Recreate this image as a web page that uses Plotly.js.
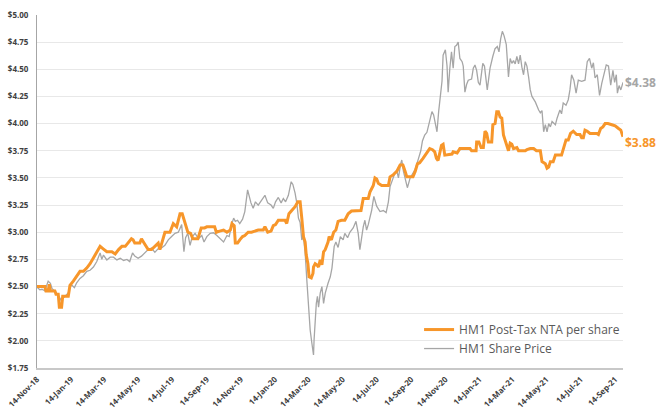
<!DOCTYPE html>
<html>
<head>
<meta charset="utf-8">
<script src="https://cdn.plot.ly/plotly-3.0.1.min.js"></script>
<style>html,body{margin:0;padding:0;background:#fff;}#chart{width:659px;height:410px;}</style>
</head>
<body>
<div id="chart"></div>
<script>
var priceDates = ['2018-11-14','2018-11-15','2018-11-19','2018-11-23','2018-11-28','2018-12-04','2018-12-08','2018-12-11','2018-12-16','2018-12-22','2018-12-27',
'2019-01-03','2019-01-09','2019-01-12','2019-01-16','2019-01-20','2019-01-24','2019-01-30','2019-02-05','2019-02-11','2019-02-17','2019-02-23',
'2019-03-01','2019-03-07','2019-03-10','2019-03-13','2019-03-19','2019-03-25','2019-03-31','2019-04-06','2019-04-12','2019-04-18','2019-04-24','2019-04-29',
'2019-05-04','2019-05-08','2019-05-14','2019-05-20','2019-05-26','2019-06-01','2019-06-07','2019-06-13','2019-06-19','2019-06-25','2019-07-01','2019-07-07',
'2019-07-13','2019-07-19','2019-07-25','2019-07-31','2019-08-04','2019-08-07','2019-08-11','2019-08-15','2019-08-19','2019-08-24','2019-08-30','2019-09-05',
'2019-09-09','2019-09-14','2019-09-20','2019-09-26','2019-10-02','2019-10-08','2019-10-14','2019-10-20','2019-10-24','2019-10-29','2019-11-01','2019-11-04',
'2019-11-08','2019-11-12','2019-11-17','2019-11-21','2019-11-26','2019-11-29','2019-12-02','2019-12-06','2019-12-10','2019-12-15','2019-12-21','2019-12-27',
'2020-01-01','2020-01-07','2020-01-11','2020-01-15','2020-01-20','2020-01-25','2020-01-29','2020-02-02','2020-02-07','2020-02-12','2020-02-15','2020-02-19',
'2020-02-22','2020-02-25','2020-02-28','2020-03-02','2020-03-05','2020-03-08','2020-03-11','2020-03-13','2020-03-15','2020-03-17','2020-03-20','2020-03-23',
'2020-03-24','2020-03-26','2020-03-28','2020-03-30','2020-04-01','2020-04-04','2020-04-07','2020-04-10','2020-04-13','2020-04-18','2020-04-22','2020-04-25',
'2020-04-29','2020-05-02','2020-05-06','2020-05-10','2020-05-15','2020-05-18','2020-05-23','2020-05-27','2020-06-02','2020-06-07','2020-06-11','2020-06-14',
'2020-06-17','2020-06-20','2020-06-23','2020-06-26','2020-06-29','2020-07-02','2020-07-05','2020-07-09','2020-07-14','2020-07-20','2020-07-26','2020-07-31',
'2020-08-04','2020-08-07','2020-08-12','2020-08-16','2020-08-19','2020-08-22','2020-08-26','2020-08-28','2020-08-31','2020-09-03','2020-09-07','2020-09-12',
'2020-09-17','2020-09-21','2020-09-27','2020-10-01','2020-10-04','2020-10-08','2020-10-12','2020-10-15','2020-10-18','2020-10-21','2020-10-24','2020-10-27',
'2020-10-30','2020-11-02','2020-11-05','2020-11-08','2020-11-10','2020-11-14','2020-11-17','2020-11-19','2020-11-22','2020-11-25','2020-11-28','2020-12-01',
'2020-12-04','2020-12-07','2020-12-10','2020-12-14','2020-12-16','2020-12-19','2020-12-22','2020-12-25','2020-12-31','2021-01-03','2021-01-06','2021-01-09',
'2021-01-12','2021-01-15','2021-01-20','2021-01-23','2021-01-28','2021-02-02','2021-02-07','2021-02-11','2021-02-15','2021-02-18','2021-02-21','2021-02-24',
'2021-02-27','2021-03-03','2021-03-07','2021-03-10','2021-03-13','2021-03-16','2021-03-19','2021-03-22','2021-03-25','2021-03-28','2021-03-31','2021-04-03',
'2021-04-06','2021-04-09','2021-04-12','2021-04-15','2021-04-18','2021-04-24','2021-04-30','2021-05-03','2021-05-06','2021-05-09','2021-05-12','2021-05-15',
'2021-05-18','2021-05-21','2021-05-24','2021-05-30','2021-06-02','2021-06-07','2021-06-10','2021-06-13','2021-06-18','2021-06-22','2021-06-25','2021-06-28',
'2021-07-02','2021-07-06','2021-07-10','2021-07-16','2021-07-22','2021-07-26','2021-07-30','2021-08-03','2021-08-06','2021-08-09','2021-08-13','2021-08-17',
'2021-08-21','2021-08-25','2021-08-29','2021-09-02','2021-09-06','2021-09-10','2021-09-13','2021-09-16','2021-09-18','2021-09-21','2021-09-24','2021-09-28'];
var priceValues = [2.50,2.49,2.47,2.475,2.46,2.55,2.53,2.48,2.46,2.42,2.375,
2.41,2.44,2.50,2.51,2.49,2.535,2.575,2.60,2.64,2.65,2.68,
2.73,2.81,2.75,2.79,2.745,2.77,2.77,2.745,2.76,2.74,2.75,2.73,
2.81,2.78,2.76,2.78,2.81,2.84,2.855,2.815,2.85,2.855,2.88,2.93,
2.96,2.99,3.00,3.07,2.82,2.95,2.99,2.88,2.96,2.99,2.94,2.97,
2.91,2.96,2.99,2.995,2.97,2.94,2.91,2.97,2.96,3.08,3.13,3.10,
3.11,3.08,3.12,3.19,3.39,3.33,3.27,3.22,3.28,3.25,3.29,3.34,
3.27,3.25,3.22,3.28,3.32,3.27,3.31,3.28,3.34,3.465,3.44,3.36,
3.27,3.13,3.09,2.93,2.96,2.81,2.56,2.41,2.19,2.10,1.98,1.87,
2.01,2.22,2.345,2.41,2.31,2.44,2.50,2.345,2.44,2.53,2.59,2.67,
2.87,2.91,2.86,2.96,2.93,2.99,2.95,3.00,3.04,3.10,2.99,2.84,
2.96,3.05,3.11,3.02,3.07,3.14,3.20,3.33,3.24,3.19,3.20,3.18,
3.28,3.42,3.50,3.55,3.57,3.50,3.63,3.665,3.56,3.49,3.41,3.50,
3.55,3.58,3.68,3.75,3.84,3.895,3.92,3.99,4.05,4.11,4.08,4.00,
3.925,4.11,4.29,4.39,4.63,4.68,4.53,4.29,4.51,4.66,4.51,4.71,
4.72,4.75,4.60,4.57,4.53,4.29,4.36,4.40,4.41,4.51,4.54,4.49,
4.38,4.355,4.555,4.53,4.31,4.51,4.62,4.69,4.71,4.66,4.78,4.85,
4.81,4.73,4.43,4.60,4.555,4.58,4.55,4.62,4.55,4.63,4.52,4.45,
4.57,4.53,4.43,4.31,4.25,4.20,4.125,4.10,4.12,3.925,3.99,3.925,
4.00,3.97,4.02,3.99,4.05,4.125,4.09,4.19,4.17,4.22,4.31,4.45,
4.40,4.28,4.40,4.39,4.40,4.57,4.60,4.51,4.56,4.42,4.45,4.26,
4.37,4.45,4.54,4.53,4.355,4.49,4.38,4.45,4.28,4.35,4.31,4.38];

var ntaDates = ['2018-11-14','2018-11-28','2018-11-30','2018-12-04','2018-12-06','2018-12-08','2018-12-16','2018-12-18','2018-12-22','2018-12-24','2018-12-28','2018-12-30',
'2019-01-09','2019-01-12','2019-01-18','2019-01-24','2019-01-30','2019-02-05','2019-02-11','2019-02-17','2019-02-23','2019-03-01','2019-03-07','2019-03-13',
'2019-03-19','2019-03-28','2019-04-03','2019-04-09','2019-04-15','2019-04-21','2019-04-27','2019-05-02','2019-05-05','2019-05-08','2019-05-17','2019-05-20',
'2019-05-26','2019-06-01','2019-06-07','2019-06-13','2019-06-19','2019-06-22','2019-06-25','2019-06-28','2019-07-01','2019-07-10','2019-07-13','2019-07-16',
'2019-07-22','2019-07-28','2019-08-01','2019-08-05','2019-08-08','2019-08-11','2019-08-16','2019-08-20','2019-08-29','2019-09-01','2019-09-04','2019-09-10',
'2019-09-14','2019-09-28','2019-10-01','2019-10-07','2019-10-14','2019-10-20','2019-10-26','2019-10-29','2019-11-02','2019-11-04','2019-11-08','2019-11-12',
'2019-11-17','2019-11-21','2019-11-27','2019-12-03','2019-12-09','2019-12-15','2019-12-24','2019-12-27','2020-01-01','2020-01-07','2020-01-11','2020-01-15',
'2020-01-20','2020-02-01','2020-02-04','2020-02-08','2020-02-13','2020-02-19','2020-02-24','2020-02-28','2020-03-02','2020-03-05','2020-03-08','2020-03-10',
'2020-03-13','2020-03-15','2020-03-19','2020-03-22','2020-03-23','2020-03-26','2020-03-29','2020-04-01','2020-04-04','2020-04-07','2020-04-10','2020-04-13',
'2020-04-18','2020-04-20','2020-04-24','2020-04-28','2020-05-02','2020-05-06','2020-05-12','2020-05-18','2020-05-21','2020-05-24','2020-05-30','2020-06-11',
'2020-06-16','2020-06-20','2020-06-29','2020-07-02','2020-07-08','2020-07-11','2020-07-14','2020-07-17','2020-07-23','2020-08-04','2020-08-07','2020-08-13',
'2020-08-19','2020-08-25','2020-08-30','2020-09-03','2020-09-06','2020-09-17','2020-09-21','2020-09-25','2020-09-29','2020-10-05','2020-10-11','2020-10-17',
'2020-10-22','2020-10-26','2020-10-29','2020-11-01','2020-11-07','2020-11-10','2020-11-13','2020-11-26','2020-11-28','2020-12-05','2020-12-10','2020-12-28',
'2020-12-31','2021-01-08','2021-01-09','2021-01-13','2021-01-17','2021-01-21','2021-01-24','2021-01-27','2021-01-30','2021-02-05','2021-02-07','2021-02-11',
'2021-02-14','2021-02-17','2021-02-20','2021-02-23','2021-02-26','2021-03-01','2021-03-04','2021-03-07','2021-03-10','2021-03-13','2021-03-16','2021-03-22',
'2021-03-25','2021-04-06','2021-04-09','2021-04-15','2021-04-21','2021-04-26','2021-05-03','2021-05-06','2021-05-12','2021-05-15','2021-05-18','2021-05-21',
'2021-05-26','2021-05-30','2021-06-10','2021-06-13','2021-06-18','2021-06-22','2021-06-26','2021-07-01','2021-07-07','2021-07-13','2021-07-16','2021-07-19',
'2021-07-22','2021-07-26','2021-07-31','2021-08-12','2021-08-15','2021-08-19','2021-08-23','2021-08-27','2021-09-01','2021-09-08','2021-09-14','2021-09-20',
'2021-09-24','2021-09-28'];
var ntaValues = [2.50,2.50,2.46,2.46,2.52,2.46,2.46,2.43,2.43,2.31,2.31,2.41,
2.41,2.51,2.55,2.60,2.64,2.64,2.67,2.71,2.76,2.82,2.87,2.845,
2.82,2.82,2.80,2.84,2.87,2.87,2.91,2.94,2.93,2.90,2.90,2.94,
2.89,2.84,2.84,2.87,2.90,2.84,2.90,2.96,3.00,3.00,3.05,3.08,
3.05,3.17,3.17,3.11,3.06,3.00,2.99,2.94,2.94,3.00,3.04,3.04,
3.05,3.05,3.00,3.01,3.02,3.00,3.02,3.08,3.06,2.90,2.90,2.93,
2.96,2.97,3.00,3.00,3.01,3.02,3.02,3.05,3.00,3.01,3.06,3.07,
3.11,3.11,3.08,3.17,3.20,3.235,3.28,3.28,3.13,2.96,2.91,2.79,
2.71,2.59,2.58,2.62,2.68,2.71,2.70,2.68,2.745,2.70,2.82,2.84,
2.91,2.96,2.93,3.00,3.02,3.10,3.11,3.11,3.14,3.17,3.195,3.195,
3.20,3.31,3.31,3.37,3.43,3.50,3.49,3.45,3.43,3.43,3.51,3.53,
3.56,3.62,3.62,3.56,3.51,3.51,3.56,3.63,3.64,3.68,3.73,3.77,
3.76,3.74,3.68,3.66,3.80,3.81,3.71,3.72,3.74,3.73,3.77,3.77,
3.75,3.75,3.83,3.83,3.78,3.78,3.93,3.91,3.83,3.83,3.99,4.00,
4.11,4.11,4.06,4.05,3.895,3.85,3.80,3.75,3.82,3.81,3.77,3.78,
3.75,3.75,3.76,3.77,3.77,3.75,3.75,3.65,3.63,3.59,3.60,3.65,
3.65,3.71,3.71,3.76,3.85,3.85,3.91,3.93,3.90,3.90,3.87,3.87,
3.94,3.93,3.91,3.91,3.90,3.955,3.97,4.00,4.00,3.99,3.98,3.955,
3.94,3.88];

var tickDates = ['2018-11-14','2019-01-14','2019-03-14','2019-05-14','2019-07-14','2019-09-14','2019-11-14','2020-01-14','2020-03-14','2020-05-14','2020-07-14','2020-09-14','2020-11-14','2021-01-14','2021-03-14','2021-05-14','2021-07-14','2021-09-14'];
var tickLabels = ['14-Nov-18','14-Jan-19','14-Mar-19','14-May-19','14-Jul-19','14-Sep-19','14-Nov-19','14-Jan-20','14-Mar-20','14-May-20','14-Jul-20','14-Sep-20','14-Nov-20','14-Jan-21','14-Mar-21','14-May-21','14-Jul-21','14-Sep-21'];
var seriesNames = ['HM1 Post-Tax NTA per share','HM1 Share Price'];

var orange = '#F7962A', grey = '#A6A6A6';
var lastP = priceValues.length - 1, lastN = ntaValues.length - 1;

var traces = [
  {x: priceDates, y: priceValues, type: 'scatter', mode: 'lines', name: seriesNames[1],
   line: {color: grey, width: 1.3}, legendrank: 2},
  {x: ntaDates, y: ntaValues, type: 'scatter', mode: 'lines', name: seriesNames[0],
   line: {color: orange, width: 3}, legendrank: 1}
];

var layout = {
  width: 659, height: 410,
  margin: {l: 37, r: 36, t: 15, b: 42},
  paper_bgcolor: '#fff', plot_bgcolor: '#fff',
  showlegend: true,
  legend: {x: 0.652, y: 0.15, xanchor: 'left', yanchor: 'top', bgcolor: 'rgba(0,0,0,0)',
           font: {family: 'Open Sans, sans-serif', size: 12, color: '#595959'}, tracegroupgap: 0,
           itemwidth: 30},
  xaxis: {type: 'date', range: [priceDates[0], priceDates[lastP]],
          tickvals: tickDates, ticktext: tickLabels, tickangle: -45,
          tickfont: {family: 'Open Sans, sans-serif', size: 8, color: '#404040', weight: 'bold'},
          showgrid: false, zeroline: false, showline: true, linecolor: '#c8c8c8', linewidth: 1.5,
          ticks: '', ticklabelstandoff: 2, fixedrange: true},
  yaxis: {range: [1.75, 5.0], dtick: 0.25, tick0: 1.75, tickprefix: '$', tickformat: '.2f',
          tickfont: {family: 'Open Sans, sans-serif', size: 8, color: '#404040', weight: 'bold'},
          showgrid: true, gridcolor: '#e8e8e8', gridwidth: 1, zeroline: false,
          showline: true, linecolor: '#a6a6a6', linewidth: 1, ticks: '', ticklabelstandoff: 6},
  annotations: [
    {x: priceDates[lastP], y: priceValues[lastP], xref: 'x', yref: 'y', xanchor: 'left', yanchor: 'middle',
     xshift: 0, text: '$' + priceValues[lastP].toFixed(2), showarrow: false,
     font: {family: 'Open Sans, sans-serif', size: 12, color: grey, weight: 'bold'}},
    {x: ntaDates[lastN], y: ntaValues[lastN], xref: 'x', yref: 'y', xanchor: 'left', yanchor: 'middle',
     xshift: 0, yshift: -6, text: '$' + ntaValues[lastN].toFixed(2), showarrow: false,
     font: {family: 'Open Sans, sans-serif', size: 12, color: orange, weight: 'bold'}}
  ]
};

Plotly.newPlot('chart', traces, layout, {displayModeBar: false, staticPlot: true});
</script>
</body>
</html>
